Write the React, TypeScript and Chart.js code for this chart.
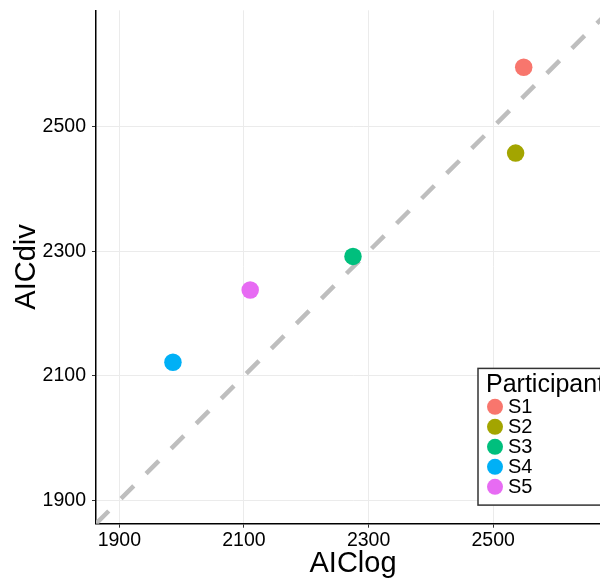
import React, { useEffect, useRef } from 'react';
import { Chart, registerables } from 'chart.js';

Chart.register(...registerables);

const participants = ['S1', 'S2', 'S3', 'S4', 'S5'];
const aicLog = [2549, 2536, 2275, 1986, 2110];
const aicDiv = [2596, 2458, 2292, 2122, 2238];
const colors = ['#F8766D', '#A3A500', '#00BF7D', '#00B0F6', '#E76BF3'];
const axisTicks = [1900, 2100, 2300, 2500];
const axisMin = 1862.5;
const axisMax = 2687.5;
const identityLine = [axisMin, axisMax];
const xTitle = 'AIClog';
const yTitle = 'AICdiv';
const legendTitle = 'Participant';

const FONT = '"Liberation Sans", Arial, Helvetica, sans-serif';

const legendPlugin = {
  id: 'participantLegend',
  afterDraw(chart: any) {
    const { ctx, chartArea } = chart;
    ctx.save();
    const x0 = chartArea.left + 382;
    const y0 = chartArea.bottom - 155.3;
    const w = 130;
    const h = 136.7;
    ctx.fillStyle = '#ffffff';
    ctx.fillRect(x0, y0, w, h);
    ctx.strokeStyle = '#333333';
    ctx.lineWidth = 1.5;
    ctx.strokeRect(x0, y0, w, h);
    ctx.fillStyle = '#000000';
    ctx.font = `25px ${FONT}`;
    ctx.textBaseline = 'alphabetic';
    ctx.textAlign = 'left';
    ctx.fillText(legendTitle, x0 + 8, y0 + 23.4);
    participants.forEach((p, i) => {
      const cy = y0 + 38.4 + 20 * i;
      ctx.beginPath();
      ctx.arc(x0 + 17, cy, 8, 0, Math.PI * 2);
      ctx.fillStyle = colors[i];
      ctx.fill();
      ctx.fillStyle = '#000000';
      ctx.font = `20px ${FONT}`;
      ctx.textBaseline = 'middle';
      ctx.fillText(p, x0 + 30, cy + 1);
    });
    ctx.restore();
  },
};

function App() {
  const canvasRef = useRef<HTMLCanvasElement | null>(null);

  useEffect(() => {
    const canvas = canvasRef.current;
    if (!canvas) return;
    const points = aicLog.map((x, i) => ({ x, y: aicDiv[i] }));
    const zeroPad = (scale: any) => {
      scale.paddingTop = 0;
      scale.paddingBottom = 0;
      scale.paddingLeft = 0;
      scale.paddingRight = 0;
    };
    const chart = new Chart(canvas, {
      type: 'scatter',
      data: {
        datasets: [
          {
            label: 'participants',
            data: points,
            backgroundColor: colors,
            borderWidth: 0,
            pointRadius: 8.75,
            pointHoverRadius: 8.75,
            order: 0,
          } as any,
          {
            type: 'line',
            label: 'identity',
            data: identityLine.map((v) => ({ x: v, y: v })),
            borderColor: '#bebebe',
            borderWidth: 4.5,
            borderDash: [18, 17.4],
            borderCapStyle: 'butt',
            pointRadius: 0,
            fill: false,
            order: 10,
          } as any,
        ],
      },
      options: {
        responsive: false,
        animation: false,
        devicePixelRatio: 1,
        layout: { autoPadding: false, padding: { top: 10.3, right: 0, left: 0, bottom: 0 } },
        plugins: {
          legend: { display: false },
          tooltip: { enabled: false },
        },
        scales: {
          x: {
            type: 'linear',
            min: axisMin,
            max: axisMax,
            afterBuildTicks: (scale: any) => {
              scale.ticks = axisTicks.map((v) => ({ value: v }));
            },
            afterFit: (scale: any) => {
              scale.height = 59.3;
              zeroPad(scale);
            },
            ticks: {
              callback: (v: any) => String(v),
              color: '#000000',
              font: { family: FONT, size: 19.5 },
              padding: 1,
              maxRotation: 0,
              autoSkip: false,
            },
            grid: {
              color: '#ebebeb',
              lineWidth: 1,
              tickColor: '#333333',
              tickLength: 4,
              tickWidth: 1,
            },
            border: { display: true, color: '#000000', width: 1.5 },
            title: {
              display: true,
              text: xTitle,
              color: '#000000',
              font: { family: FONT, size: 29 },
              padding: { top: 0, bottom: 1.3 },
            },
          },
          y: {
            type: 'linear',
            min: axisMin,
            max: axisMax,
            afterBuildTicks: (scale: any) => {
              scale.ticks = axisTicks.map((v) => ({ value: v }));
            },
            afterFit: (scale: any) => {
              scale.width = 96;
              zeroPad(scale);
            },
            ticks: {
              callback: (v: any) => String(v),
              color: '#000000',
              font: { family: FONT, size: 19.5 },
              padding: 6,
              autoSkip: false,
            },
            grid: {
              color: '#ebebeb',
              lineWidth: 1,
              tickColor: '#333333',
              tickLength: 4,
              tickWidth: 1,
            },
            border: { display: true, color: '#000000', width: 1.5 },
            title: {
              display: true,
              text: yTitle,
              color: '#000000',
              font: { family: FONT, size: 29 },
              padding: { top: 9.4, bottom: 0 },
            },
          },
        },
      } as any,
      plugins: [legendPlugin],
    });
    return () => chart.destroy();
  }, []);

  return (
    <div
      style={{
        position: 'absolute',
        left: 0,
        top: 0,
        width: 600,
        height: 583,
        overflow: 'hidden',
        background: '#ffffff',
      }}
    >
      <canvas ref={canvasRef} width={610} height={583} style={{ display: 'block', width: 610, height: 583 }} />
    </div>
  );
}

export default App;
